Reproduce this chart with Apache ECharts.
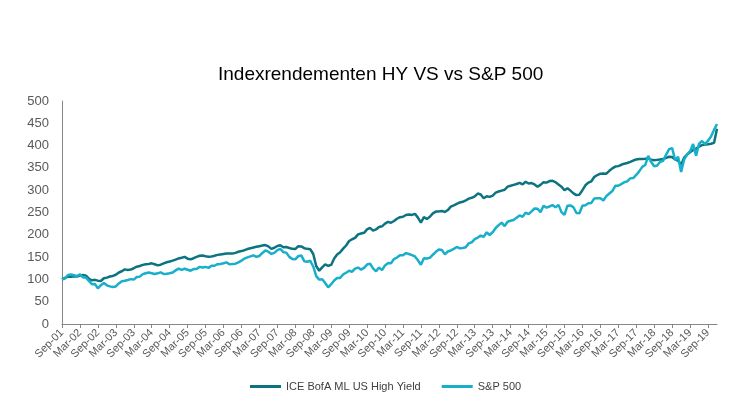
<!DOCTYPE html>
<html>
<head>
<meta charset="utf-8">
<script src="https://cdn.jsdelivr.net/npm/echarts@6/dist/echarts.min.js"></script>
<style>
html,body{margin:0;padding:0;background:#fff;}
#chart{width:750px;height:411px;}
</style>
</head>
<body>
<div id="chart"></div>
<script>
const categories = [
"Sep-01","Oct-01","Nov-01","Dec-01",
"Jan-02","Feb-02","Mar-02","Apr-02","May-02","Jun-02","Jul-02","Aug-02","Sep-02","Oct-02","Nov-02","Dec-02",
"Jan-03","Feb-03","Mar-03","Apr-03","May-03","Jun-03","Jul-03","Aug-03","Sep-03","Oct-03","Nov-03","Dec-03",
"Jan-04","Feb-04","Mar-04","Apr-04","May-04","Jun-04","Jul-04","Aug-04","Sep-04","Oct-04","Nov-04","Dec-04",
"Jan-05","Feb-05","Mar-05","Apr-05","May-05","Jun-05","Jul-05","Aug-05","Sep-05","Oct-05","Nov-05","Dec-05",
"Jan-06","Feb-06","Mar-06","Apr-06","May-06","Jun-06","Jul-06","Aug-06","Sep-06","Oct-06","Nov-06","Dec-06",
"Jan-07","Feb-07","Mar-07","Apr-07","May-07","Jun-07","Jul-07","Aug-07","Sep-07","Oct-07","Nov-07","Dec-07",
"Jan-08","Feb-08","Mar-08","Apr-08","May-08","Jun-08","Jul-08","Aug-08","Sep-08","Oct-08","Nov-08","Dec-08",
"Jan-09","Feb-09","Mar-09","Apr-09","May-09","Jun-09","Jul-09","Aug-09","Sep-09","Oct-09","Nov-09","Dec-09",
"Jan-10","Feb-10","Mar-10","Apr-10","May-10","Jun-10","Jul-10","Aug-10","Sep-10","Oct-10","Nov-10","Dec-10",
"Jan-11","Feb-11","Mar-11","Apr-11","May-11","Jun-11","Jul-11","Aug-11","Sep-11","Oct-11","Nov-11","Dec-11",
"Jan-12","Feb-12","Mar-12","Apr-12","May-12","Jun-12","Jul-12","Aug-12","Sep-12","Oct-12","Nov-12","Dec-12",
"Jan-13","Feb-13","Mar-13","Apr-13","May-13","Jun-13","Jul-13","Aug-13","Sep-13","Oct-13","Nov-13","Dec-13",
"Jan-14","Feb-14","Mar-14","Apr-14","May-14","Jun-14","Jul-14","Aug-14","Sep-14","Oct-14","Nov-14","Dec-14",
"Jan-15","Feb-15","Mar-15","Apr-15","May-15","Jun-15","Jul-15","Aug-15","Sep-15","Oct-15","Nov-15","Dec-15",
"Jan-16","Feb-16","Mar-16","Apr-16","May-16","Jun-16","Jul-16","Aug-16","Sep-16","Oct-16","Nov-16","Dec-16",
"Jan-17","Feb-17","Mar-17","Apr-17","May-17","Jun-17","Jul-17","Aug-17","Sep-17","Oct-17","Nov-17","Dec-17",
"Jan-18","Feb-18","Mar-18","Apr-18","May-18","Jun-18","Jul-18","Aug-18","Sep-18","Oct-18","Nov-18","Dec-18",
"Jan-19","Feb-19","Mar-19","Apr-19","May-19","Jun-19","Jul-19","Aug-19","Sep-19","Oct-19","Nov-19","Dec-19"
];

const hyName = "ICE BofA ML US High Yield";
const spName = "S&P 500";

const hyValues = [
100.0,103.5,106.5,106.0,107.0,106.4,108.5,110.2,108.5,101.5,97.8,99.0,
97.2,96.5,102.5,104.0,106.5,107.8,110.5,115.5,118.3,122.5,121.2,122.0,
125.0,128.5,130.0,132.5,134.0,134.5,136.0,134.0,131.5,133.0,136.0,138.5,
140.0,142.0,144.5,147.0,148.5,150.5,146.5,145.0,147.5,150.5,153.0,153.5,
152.0,151.0,151.5,153.0,155.0,156.0,157.0,158.0,158.0,157.8,159.5,162.0,
163.5,165.5,168.0,170.0,171.5,173.0,174.5,176.0,177.0,174.0,168.5,171.0,
175.0,176.5,172.0,172.5,170.5,168.5,168.0,174.5,174.0,170.0,168.5,167.5,
157.0,130.0,119.5,127.0,133.5,130.5,132.5,147.0,156.0,161.0,169.0,176.0,
186.0,190.0,193.0,201.0,203.0,204.5,212.0,215.5,209.5,212.0,217.5,219.0,
225.0,229.0,227.0,231.0,236.0,239.5,240.5,244.5,245.5,244.5,247.0,238.5,
227.5,239.5,235.5,240.5,248.0,252.0,252.5,253.5,251.0,255.5,263.0,266.0,
269.5,272.5,274.0,277.0,281.0,283.0,286.0,292.5,290.5,282.0,286.5,285.0,
288.0,294.5,297.0,299.0,301.0,308.0,310.0,312.0,314.0,316.5,313.0,319.0,
315.0,316.0,313.0,308.0,312.0,318.0,317.0,320.5,321.0,318.0,313.0,308.0,
300.0,304.5,299.0,293.0,289.0,290.0,300.0,311.0,317.0,320.0,330.0,334.0,
337.0,337.5,337.0,343.5,349.0,353.0,354.0,357.0,359.5,361.0,363.5,366.5,
369.0,370.0,370.0,370.5,371.5,368.5,367.0,368.0,369.0,370.0,372.5,375.0,
374.5,369.0,366.0,357.0,373.0,380.0,385.0,390.0,393.0,398.0,401.0,402.5,
403.0,404.0,406.0,438.0
];

const spValues = [
100.0,102.0,109.8,110.8,109.3,107.2,111.3,104.7,103.9,96.5,89.1,89.6,
79.9,87.0,92.1,86.7,84.4,83.1,84.1,90.9,95.7,97.0,98.7,100.6,
99.6,105.3,106.2,111.8,113.9,115.5,113.8,112.1,113.6,115.8,112.1,112.5,
113.7,115.5,120.2,124.3,121.4,123.9,121.7,119.5,123.2,123.4,128.1,126.9,
128.0,125.9,130.5,130.6,134.2,134.5,136.2,138.1,134.0,134.3,135.2,138.3,
141.9,146.7,149.3,151.5,153.9,150.7,152.5,159.4,164.8,162.2,157.2,159.5,
165.5,168.3,161.1,160.0,150.5,145.5,144.9,152.0,153.9,140.9,139.7,141.7,
129.0,107.4,99.5,100.4,92.0,82.0,89.2,97.7,103.1,103.3,111.1,115.0,
119.3,117.2,124.1,126.5,122.0,125.7,133.3,135.5,124.6,118.1,126.5,120.7,
131.4,136.5,136.4,145.6,149.1,154.2,154.3,158.9,157.0,154.4,151.4,143.0,
133.0,147.5,147.0,148.5,155.3,161.9,167.2,166.2,156.1,162.5,164.9,168.4,
172.8,169.6,170.4,171.9,180.9,183.2,190.1,193.8,198.2,195.6,205.6,199.5,
205.8,215.3,221.7,227.3,219.6,229.4,231.4,233.2,238.5,243.5,240.2,249.7,
246.2,252.4,259.0,258.4,250.8,265.0,260.8,263.5,266.7,261.5,267.1,250.8,
244.6,265.3,265.9,261.7,248.8,248.2,265.1,266.2,270.8,271.5,281.6,281.7,
281.8,276.8,286.8,292.5,298.2,309.8,310.2,313.6,317.7,319.8,326.5,327.3,
334.2,342.2,352.3,356.4,377.1,363.0,353.8,355.4,363.7,366.0,379.9,392.0,
394.4,367.6,374.8,341.0,368.4,380.0,387.5,403.4,377.5,404.2,410.2,403.4,
411.1,420.2,435.2,448.4
];

const FONT = '"Liberation Sans", Arial, sans-serif';
const hyColor = '#0B7480';
const spColor = '#17AFC9';

const chart = echarts.init(document.getElementById('chart'), null, {renderer: 'canvas'});
chart.setOption({
  animation: false,
  backgroundColor: '#ffffff',
  title: {
    text: 'Indexrendementen HY VS vs S&P 500',
    left: 213,
    top: 60,
    textStyle: {fontFamily: FONT, fontSize: 19, fontWeight: 'normal', color: '#000000'}
  },
  legend: {
    left: 245,
    top: 376,
    icon: 'rect',
    itemWidth: 31,
    itemHeight: 3,
    itemGap: 21,
    textStyle: {fontFamily: FONT, fontSize: 11, color: '#404040'},
    data: [hyName, spName]
  },
  grid: {left: 62, right: 33, top: 101, bottom: 87},
  xAxis: {
    type: 'category',
    data: categories,
    boundaryGap: false,
    axisLine: {show: true, lineStyle: {color: '#868686', width: 1}},
    axisTick: {show: true, interval: 5, length: 4, lineStyle: {color: '#868686'}},
    axisLabel: {interval: 5, rotate: 45, fontFamily: FONT, fontSize: 11, color: '#595959', margin: 7}
  },
  yAxis: {
    type: 'value',
    min: 0,
    max: 500,
    interval: 50,
    axisLine: {show: true, lineStyle: {color: '#868686', width: 1}},
    axisTick: {show: false},
    splitLine: {show: false},
    axisLabel: {fontFamily: FONT, fontSize: 13, color: '#595959', margin: 13}
  },
  series: [
    {name: hyName, type: 'line', data: hyValues, showSymbol: false, symbol: 'none',
     lineStyle: {color: hyColor, width: 2.5}, itemStyle: {color: hyColor}, z: 3},
    {name: spName, type: 'line', data: spValues, showSymbol: false, symbol: 'none',
     lineStyle: {color: spColor, width: 2.5}, itemStyle: {color: spColor}, z: 4}
  ]
});
</script>
</body>
</html>
